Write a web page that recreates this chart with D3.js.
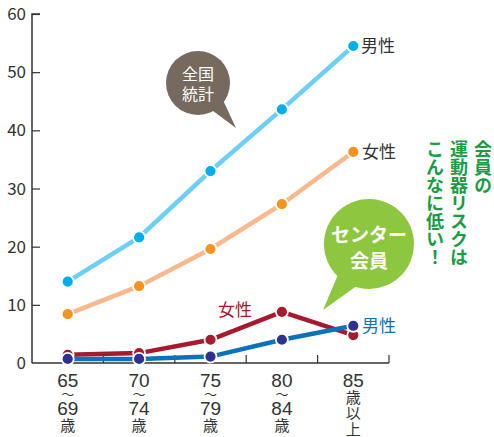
<!DOCTYPE html>
<html><head><meta charset="utf-8">
<script src="https://cdn.jsdelivr.net/npm/d3@7"></script>
<style>body{margin:0;background:#fff;}svg{display:block;font-family:"Noto Sans CJK JP","Noto Sans",sans-serif;}</style>
</head><body><svg id="c" width="494" height="437"></svg>
<script>
const categories = [["65","〜","69","歳"],["70","〜","74","歳"],["75","〜","79","歳"],["80","〜","84","歳"],["85","歳","以","上"]];
const yTicks = [0,10,20,30,40,50,60];
const nationalMale = [14.0, 21.6, 33.0, 43.6, 54.5];
const nationalFemale = [8.4, 13.2, 19.6, 27.3, 36.3];
const centerFemale = [1.4, 1.7, 4.0, 8.8, 4.8];
const centerMale = [0.7, 0.7, 1.1, 4.0, 6.4];

const svg = d3.select("#c");
const x0 = 32, x1 = 389, yTop = 14, yBot = 363;
const x = d3.scaleBand().domain(d3.range(categories.length)).range([x0, x1]);
const y = d3.scaleLinear().domain([0,60]).range([yBot, yTop]);

// axes
const yAxis = svg.append("g").attr("transform",`translate(${x0},0)`)
  .call(d3.axisRight(y).tickValues(yTicks).tickSize(8).tickFormat(""));
yAxis.select(".domain").attr("d",`M8,${yTop}H0V${yBot}`).attr("stroke","#333").attr("stroke-width",1.5);
yAxis.selectAll(".tick line").attr("stroke","#333").attr("stroke-width",1.2);
yAxis.selectAll(".tick").filter(d=>d===0).select("line").remove();
svg.append("g").selectAll("text").data(yTicks).join("text")
  .attr("x",26).attr("y",d=>y(d)+6).attr("text-anchor","end")
  .attr("font-size",17).attr("fill","#333").text(d=>d);

// x axis baseline + ticks at band boundaries
const bounds = d3.range(categories.length+1).map(i => i<categories.length ? x(i) : x1);
svg.append("line").attr("x1",x0).attr("x2",x1).attr("y1",yBot).attr("y2",yBot).attr("stroke","#333").attr("stroke-width",1.5);
svg.append("g").selectAll("line").data(bounds.slice(1)).join("line")
  .attr("x1",d=>d).attr("x2",d=>d).attr("y1",yBot).attr("y2",yBot-8).attr("stroke","#333").attr("stroke-width",1.2);
const xl = svg.append("g");
categories.forEach((lines,i)=>{
  const isLast = lines[1] !== "〜";
  const ys = isLast ? [387, 403, 419, 435] : [387, 399, 415, 431];
  lines.forEach((t,j)=>{
    const digit = /^\d+$/.test(t);
    xl.append("text").attr("x",x(i)+x.bandwidth()/2).attr("y",ys[j])
      .attr("text-anchor","middle")
      .attr("font-size", digit ? 19 : (t==="〜" ? 13 : 15))
      .style("font-family", digit ? '"Liberation Sans Narrow","Liberation Sans",sans-serif' : null)
      .attr("fill","#333").text(t);
  });
});

const cx = i => x(i)+x.bandwidth()/2;
const line = d3.line().x((d,i)=>cx(i)).y(d=>y(d));
function series(data, lineColor, dotColor, w){
  svg.append("path").datum(data).attr("d",line).attr("fill","none")
    .attr("stroke",lineColor).attr("stroke-width",w);
  svg.append("g").selectAll("circle").data(data).join("circle")
    .attr("cx",(d,i)=>cx(i)).attr("cy",d=>y(d)).attr("r",6)
    .attr("fill",dotColor).attr("stroke","#fff").attr("stroke-width",1.8);
}
series(nationalMale, "#6dcff6", "#00aeef", 4.5);
series(nationalFemale, "#fbb88c", "#f7941d", 4.5);
series(centerFemale, "#a6192e", "#a6192e", 4.5);
series(centerMale, "#0a73bb", "#2e3192", 4.5);

// series labels
const lab = (tx,ty,t,c)=>svg.append("text").attr("x",tx).attr("y",ty).attr("font-size",17).attr("fill",c).text(t);
lab(361, 52, "男性", "#333");
lab(362, 158, "女性", "#333");
lab(218, 316, "女性", "#a6192e");
lab(362, 332, "男性", "#0a73bb");

// bubble 1
svg.append("path").attr("d","M205,105 L236,128 L222,98 Z").attr("fill","#766a5e");
svg.append("circle").attr("cx",198).attr("cy",83).attr("r",32).attr("fill","#766a5e");
svg.append("text").attr("x",198).attr("y",80).attr("text-anchor","middle").attr("font-size",16).attr("fill","#fff").text("全国");
svg.append("text").attr("x",198).attr("y",100).attr("text-anchor","middle").attr("font-size",16).attr("fill","#fff").text("統計");

// bubble 2
svg.append("path").attr("d","M340,270 L323,310 L365,280 Z").attr("fill","#8dc63f");
svg.append("circle").attr("cx",369).attr("cy",244).attr("r",45).attr("fill","#8dc63f");
svg.append("text").attr("x",369).attr("y",242).attr("text-anchor","middle").attr("font-size",19).attr("font-weight","bold").attr("fill","#fff").text("センター");
svg.append("text").attr("x",369).attr("y",268).attr("text-anchor","middle").attr("font-size",19).attr("font-weight","bold").attr("fill","#fff").text("会員");

// vertical text
const vt = ["会員の","運動器リスクは","こんなに低い！"];
const vx = [483, 459, 435];
vt.forEach((t,i)=>{
  svg.append("text").attr("x",vx[i]).attr("y",140)
    .style("writing-mode","vertical-rl").style("text-orientation","upright")
    .attr("font-size",18).attr("font-weight","bold").attr("fill","#1a9b46").text(t);
});
</script></body></html>
